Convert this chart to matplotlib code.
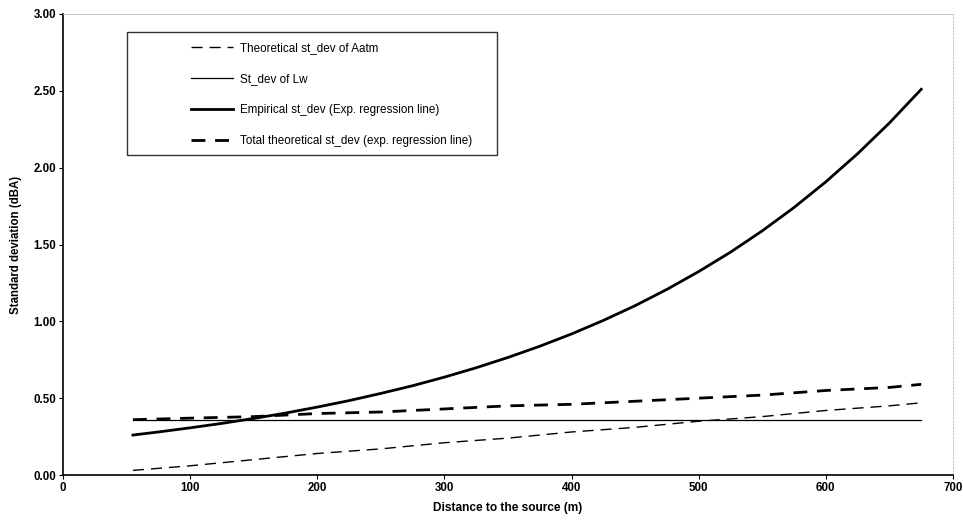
import matplotlib
matplotlib.use("Agg")
import matplotlib.pyplot as plt
from matplotlib.patches import Rectangle

plt.rcParams['font.family'] = ['Liberation Sans', 'DejaVu Sans']

# Distance to the source (m)
dist_emp = [55, 75, 100, 125, 150, 175, 200, 225, 250, 275, 300, 325, 350,
            375, 400, 425, 450, 475, 500, 525, 550, 575, 600, 625, 650, 675]
empirical = [0.260, 0.280, 0.307, 0.336, 0.368, 0.403, 0.442, 0.484, 0.531,
             0.581, 0.637, 0.698, 0.765, 0.838, 0.918, 1.006, 1.102, 1.208,
             1.324, 1.450, 1.589, 1.741, 1.908, 2.091, 2.291, 2.510]

dist = [55, 100, 150, 200, 250, 300, 350, 400, 450, 500, 550, 600, 650, 675]
aatm = [0.03, 0.06, 0.10, 0.14, 0.17, 0.21, 0.24, 0.28, 0.31, 0.35, 0.38,
        0.42, 0.45, 0.47]
lw = [0.36, 0.36, 0.36, 0.36, 0.36, 0.36, 0.36, 0.36, 0.36, 0.36, 0.36,
      0.36, 0.36, 0.36]
total = [0.36, 0.37, 0.38, 0.40, 0.41, 0.43, 0.45, 0.46, 0.48, 0.50, 0.52,
         0.55, 0.57, 0.59]

labels = ["Theoretical st_dev of Aatm", "St_dev of Lw",
          "Empirical st_dev (Exp. regression line)",
          "Total theoretical st_dev (exp. regression line)"]

fig = plt.figure(figsize=(9.63, 5.23), dpi=100)
ax = fig.add_axes([63/963, 1 - 475/523, 890/963, 461/523])

h1, = ax.plot(dist, aatm, color='black', lw=1.0, dashes=(8, 5))
h2, = ax.plot(dist, lw, color='black', lw=0.9)
h3, = ax.plot(dist_emp, empirical, color='black', lw=2.0)
h4, = ax.plot(dist, total, color='black', lw=2.0, dashes=(5, 3.5))

ax.set_xlim(0, 700)
ax.set_ylim(0, 3.0)
ax.set_xticks(range(0, 701, 100))
ax.set_yticks([0, 0.5, 1.0, 1.5, 2.0, 2.5, 3.0])
ax.set_yticklabels([f"{v:.2f}" for v in ax.get_yticks()])
ax.tick_params(direction='out', length=3, width=0.8, labelsize=8.3, pad=2)
for lbl in ax.get_xticklabels() + ax.get_yticklabels():
    lbl.set_fontweight('bold')

ax.set_xlabel("Distance to the source (m)", fontsize=8.6, fontweight='bold', labelpad=6)
ax.set_ylabel("Standard deviation (dBA)", fontsize=8.3, fontweight='bold', labelpad=8)

ax.spines['left'].set_linewidth(1.2)
ax.spines['bottom'].set_linewidth(1.2)
ax.spines['top'].set_color('#bbbbbb')
ax.spines['top'].set_linewidth(0.6)
ax.spines['right'].set_color('#bbbbbb')
ax.spines['right'].set_linewidth(0.6)
ax.spines['right'].set_linestyle((0, (2, 2)))

# Legend frame drawn separately so the entries can sit indented inside it
frame = Rectangle((0.072, 0.694), 0.416, 0.267, transform=ax.transAxes,
                  facecolor='white', edgecolor='#333333', lw=1.0, zorder=4)
ax.add_patch(frame)
leg = ax.legend([h1, h2, h3, h4], labels, loc='upper left',
                bbox_to_anchor=(0.140, 0.947), frameon=False,
                fontsize=8.4, handlelength=3.6, handletextpad=0.55,
                labelspacing=1.62, borderaxespad=0, borderpad=0.3)
leg.set_zorder(5)

fig.savefig("out.png", dpi=100)
